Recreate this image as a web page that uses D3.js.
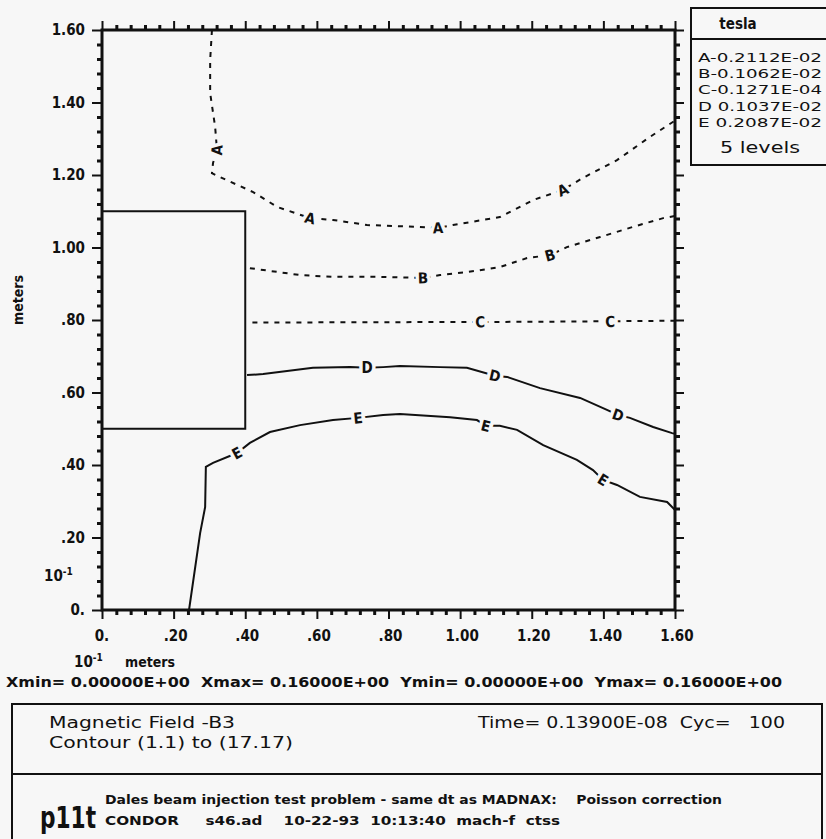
<!DOCTYPE html>
<html><head><meta charset="utf-8">
<script src="https://cdn.jsdelivr.net/npm/d3@7/dist/d3.min.js"></script>
<style>
body{margin:0;background:#f7f7f7}
svg{display:block}
text{font-family:"DejaVu Sans Condensed","DejaVu Sans",sans-serif;fill:#111}
</style>
</head><body>
<svg id="chart" width="826" height="839"></svg>
<script>
// ---------- data ----------
const xMajorTicks = [0, 0.2, 0.4, 0.6, 0.8, 1.0, 1.2, 1.4, 1.6];
const xTickLabels = ["0.", ".20", ".40", ".60", ".80", "1.00", "1.20", "1.40", "1.60"];
const yMajorTicks = [0, 0.2, 0.4, 0.6, 0.8, 1.0, 1.2, 1.4, 1.6];
const yTickLabels = ["0.", ".20", ".40", ".60", ".80", "1.00", "1.20", "1.40", "1.60"];
const minorStep = 0.04;

// conductor rectangle [x0, y0, x1, y1] in meters (x10^-1)
const conductorRect = [0, 0.50, 0.40, 1.10];

const contourA = [[0.307,1.600],[0.302,1.517],[0.302,1.426],[0.316,1.332],[0.321,1.269],[0.310,1.233],[0.307,1.205],
  [0.330,1.194],[0.422,1.153],[0.489,1.112],[0.581,1.081],[0.645,1.076],[0.740,1.062],[0.880,1.057],[0.938,1.054],
  [0.980,1.062],[1.111,1.084],[1.204,1.131],[1.287,1.159],[1.343,1.192],[1.438,1.241],[1.530,1.305],[1.600,1.350]];
const contourB = [[0.413,0.943],[0.553,0.924],[0.645,0.919],[0.776,0.919],[0.896,0.916],[0.944,0.924],[1.019,0.932],
  [1.111,0.946],[1.187,0.971],[1.251,0.979],[1.298,1.001],[1.391,1.029],[1.483,1.057],[1.567,1.081],[1.600,1.087]];
const contourC = [[0.420,0.793],[0.800,0.794],[1.200,0.795],[1.600,0.798]];
const contourD = [[0.405,0.648],[0.450,0.651],[0.589,0.668],[0.693,0.670],[0.740,0.668],[0.785,0.670],[0.832,0.673],
  [0.944,0.670],[1.019,0.668],[1.097,0.646],[1.131,0.643],[1.223,0.612],[1.335,0.585],[1.410,0.552],[1.441,0.538],
  [1.474,0.530],[1.539,0.505],[1.592,0.488],[1.600,0.486]];
const contourE = [[0.243,0.000],[0.274,0.212],[0.288,0.284],[0.290,0.395],[0.310,0.406],[0.377,0.433],[0.413,0.461],
  [0.469,0.491],[0.553,0.510],[0.645,0.524],[0.715,0.530],[0.785,0.538],[0.832,0.541],[0.972,0.532],[1.047,0.524],
  [1.072,0.508],[1.111,0.508],[1.159,0.497],[1.232,0.455],[1.326,0.414],[1.371,0.386],[1.399,0.359],[1.438,0.345],
  [1.502,0.312],[1.578,0.298],[1.600,0.276]];

const contourNames = ["A","B","C","D","E"];
const contourDashed = [true, true, true, false, false];
const contourLabelAt = [
  [[0.321,1.269],[0.581,1.081],[0.938,1.054],[1.287,1.159]],
  [[0.896,0.916],[1.251,0.979]],
  [[1.056,0.795],[1.419,0.796]],
  [[0.740,0.668],[1.097,0.646],[1.441,0.538]],
  [[0.377,0.433],[0.715,0.530],[1.072,0.508],[1.399,0.359]]
];

const legendTitle = "tesla";
const legendLines = ["A-0.2112E-02","B-0.1062E-02","C-0.1271E-04","D 0.1037E-02","E 0.2087E-02"];
const legendFooter = "5 levels";

const statsLine = "Xmin= 0.00000E+00  Xmax= 0.16000E+00  Ymin= 0.00000E+00  Ymax= 0.16000E+00";
const titleLine1 = "Magnetic Field -B3";
const titleLine2 = "Contour (1.1) to (17.17)";
const timeLine = "Time= 0.13900E-08  Cyc=   100";
const codeName = "p11t";
const runLine1 = "Dales beam injection test problem - same dt as MADNAX:    Poisson correction";
const runLine2 = "CONDOR     s46.ad    10-22-93  10:13:40  mach-f  ctss";

// ---------- layout ----------
const BG = "#f7f7f7";
const svg = d3.select("#chart");
svg.append("rect").attr("width",826).attr("height",839).attr("fill",BG);

const x = d3.scaleLinear().domain([0,1.6]).range([102,675]);
const y = d3.scaleLinear().domain([0,1.6]).range([610,30]);

const minorTicks = d3.range(0, 1.6 + 1e-9, minorStep).map(v => +v.toFixed(2))
  .filter(v => !xMajorTicks.some(m => Math.abs(m - v) < 1e-6));

function styleAxis(g, w){
  g.select(".domain").remove();
  g.selectAll("line").attr("stroke","#111").attr("stroke-width",w);
}
// minor ticks
svg.append("g").attr("transform",`translate(0,${y(0)})`)
  .call(d3.axisBottom(x).tickValues(minorTicks).tickSize(5).tickFormat("")).call(g=>styleAxis(g,3));
svg.append("g").attr("transform",`translate(0,${y(1.6)})`)
  .call(d3.axisTop(x).tickValues(minorTicks).tickSize(5).tickFormat("")).call(g=>styleAxis(g,3));
svg.append("g").attr("transform",`translate(${x(0)},0)`)
  .call(d3.axisLeft(y).tickValues(minorTicks).tickSize(5).tickFormat("")).call(g=>styleAxis(g,3));
svg.append("g").attr("transform",`translate(${x(1.6)},0)`)
  .call(d3.axisRight(y).tickValues(minorTicks).tickSize(5).tickFormat("")).call(g=>styleAxis(g,3));
// major ticks
svg.append("g").attr("transform",`translate(0,${y(0)})`)
  .call(d3.axisBottom(x).tickValues(xMajorTicks).tickSize(9).tickFormat("")).call(g=>styleAxis(g,2));
svg.append("g").attr("transform",`translate(0,${y(1.6)})`)
  .call(d3.axisTop(x).tickValues(xMajorTicks).tickSize(9).tickFormat("")).call(g=>styleAxis(g,2));
svg.append("g").attr("transform",`translate(${x(0)},0)`)
  .call(d3.axisLeft(y).tickValues(yMajorTicks).tickSize(10).tickFormat("")).call(g=>styleAxis(g,2));
svg.append("g").attr("transform",`translate(${x(1.6)},0)`)
  .call(d3.axisRight(y).tickValues(yMajorTicks).tickSize(9).tickFormat("")).call(g=>styleAxis(g,2));

// frame
svg.append("rect").attr("x",x(0)).attr("y",y(1.6)).attr("width",x(1.6)-x(0)).attr("height",y(0)-y(1.6))
  .attr("fill","none").attr("stroke","#111").attr("stroke-width",3);

// tick labels
svg.append("g").selectAll("text").data(xMajorTicks).join("text")
  .attr("x",(d,i)=> x(d) + (i===0 ? 0 : 2)).attr("y",641).attr("text-anchor","middle")
  .style("font-size","15px").style("font-weight","bold").text((d,i)=>xTickLabels[i]);
svg.append("g").selectAll("text").data(yMajorTicks).join("text")
  .attr("x",85).attr("y",d=>y(d)+5).attr("text-anchor","end")
  .style("font-size","15px").style("font-weight","bold").text((d,i)=>yTickLabels[i]);

// exponent and axis titles
function tenMinusOne(px, py){
  const t = svg.append("text").attr("x",px).attr("y",py).style("font-size","15px").style("font-weight","bold");
  t.append("tspan").text("10");
  t.append("tspan").attr("dy",-6).style("font-size","10px").text("-1");
}
tenMinusOne(44, 581);
tenMinusOne(74, 667);
svg.append("text").attr("x",150).attr("y",667).attr("text-anchor","middle")
  .style("font-size","14px").style("font-weight","bold").text("meters");
svg.append("text").attr("transform","translate(23,300) rotate(-90)").attr("text-anchor","middle")
  .style("font-size","14px").style("font-weight","bold").text("meters");

// conductor
svg.append("rect").attr("x",x(conductorRect[0])).attr("y",y(conductorRect[3]))
  .attr("width",x(conductorRect[2])-x(conductorRect[0])).attr("height",y(conductorRect[1])-y(conductorRect[3]))
  .attr("fill","none").attr("stroke","#111").attr("stroke-width",2);

// contours
const contours = [contourA, contourB, contourC, contourD, contourE];
const line = d3.line().x(d=>x(d[0])).y(d=>y(d[1]));
const cg = svg.append("g");
contours.forEach((pts,i)=>{
  cg.append("path").attr("d",line(pts)).attr("fill","none").attr("stroke","#111")
    .attr("stroke-width",2).attr("stroke-dasharray",contourDashed[i] ? "5,6" : null);
});
// labels on contours
contourLabelAt.forEach((labs,i)=>{
  const pts = contours[i];
  labs.forEach(p=>{
    let best=0, bd=1e9;
    pts.forEach((q,k)=>{const d=(q[0]-p[0])**2+(q[1]-p[1])**2; if(d<bd){bd=d;best=k;}});
    const a = pts[Math.max(0,best-1)], b = pts[Math.min(pts.length-1,best+1)];
    let ang = Math.atan2(y(b[1])-y(a[1]), x(b[0])-x(a[0]))*180/Math.PI;
    if (ang > 90) ang -= 180; if (ang < -90) ang += 180;
    cg.append("text").attr("transform",`translate(${x(p[0])},${y(p[1])}) rotate(${ang})`)
      .attr("text-anchor","middle").attr("dy","0.36em")
      .style("font-size","15px").style("font-weight","bold")
      .attr("stroke",BG).attr("stroke-width",7).attr("paint-order","stroke")
      .text(contourNames[i]);
  });
});

// legend box
const lg = svg.append("g");
lg.append("rect").attr("x",691).attr("y",8).attr("width",150).attr("height",157)
  .attr("fill","none").attr("stroke","#111").attr("stroke-width",2);
lg.append("line").attr("x1",691).attr("x2",830).attr("y1",39).attr("y2",39).attr("stroke","#111").attr("stroke-width",2);
lg.append("text").attr("x",738).attr("y",29).attr("text-anchor","middle")
  .style("font-size","15px").style("font-weight","bold").text(legendTitle);
lg.selectAll("text.lv").data(legendLines).join("text").attr("class","lv")
  .attr("x",698).attr("y",(d,i)=>[62,78,94,111,127][i])
  .attr("textLength",124).attr("lengthAdjust","spacingAndGlyphs")
  .style("font-size","13px").text(d=>d);
lg.append("text").attr("x",720).attr("y",153)
  .attr("textLength",80).attr("lengthAdjust","spacingAndGlyphs")
  .style("font-size","16px").text(legendFooter);

// stats line
svg.append("text").attr("x",6).attr("y",687).attr("textLength",776).attr("lengthAdjust","spacingAndGlyphs")
  .style("font-size","14px").style("font-weight","bold").style("white-space","pre").text(statsLine);

// info boxes
svg.append("rect").attr("x",12).attr("y",704).attr("width",810).attr("height",145)
  .attr("fill","none").attr("stroke","#111").attr("stroke-width",2);
svg.append("line").attr("x1",12).attr("x2",822).attr("y1",774).attr("y2",774).attr("stroke","#111").attr("stroke-width",2);
svg.append("text").attr("x",49).attr("y",728).attr("textLength",186).attr("lengthAdjust","spacingAndGlyphs")
  .style("font-size","15px").text(titleLine1);
svg.append("text").attr("x",49).attr("y",748).attr("textLength",244).attr("lengthAdjust","spacingAndGlyphs")
  .style("font-size","15px").text(titleLine2);
svg.append("text").attr("x",478).attr("y",728).attr("textLength",307).attr("lengthAdjust","spacingAndGlyphs")
  .style("font-size","15px").style("white-space","pre").text(timeLine);
svg.append("text").attr("x",40).attr("y",828).attr("textLength",56).attr("lengthAdjust","spacingAndGlyphs")
  .style("font-size","30px").style("font-weight","bold").text(codeName);
svg.append("text").attr("x",105).attr("y",804).attr("textLength",617).attr("lengthAdjust","spacingAndGlyphs")
  .style("font-size","12px").style("font-weight","bold").style("white-space","pre").text(runLine1);
svg.append("text").attr("x",105).attr("y",825).attr("textLength",455).attr("lengthAdjust","spacingAndGlyphs")
  .style("font-size","13px").style("font-weight","bold").style("white-space","pre").text(runLine2);
</script>
</body></html>
